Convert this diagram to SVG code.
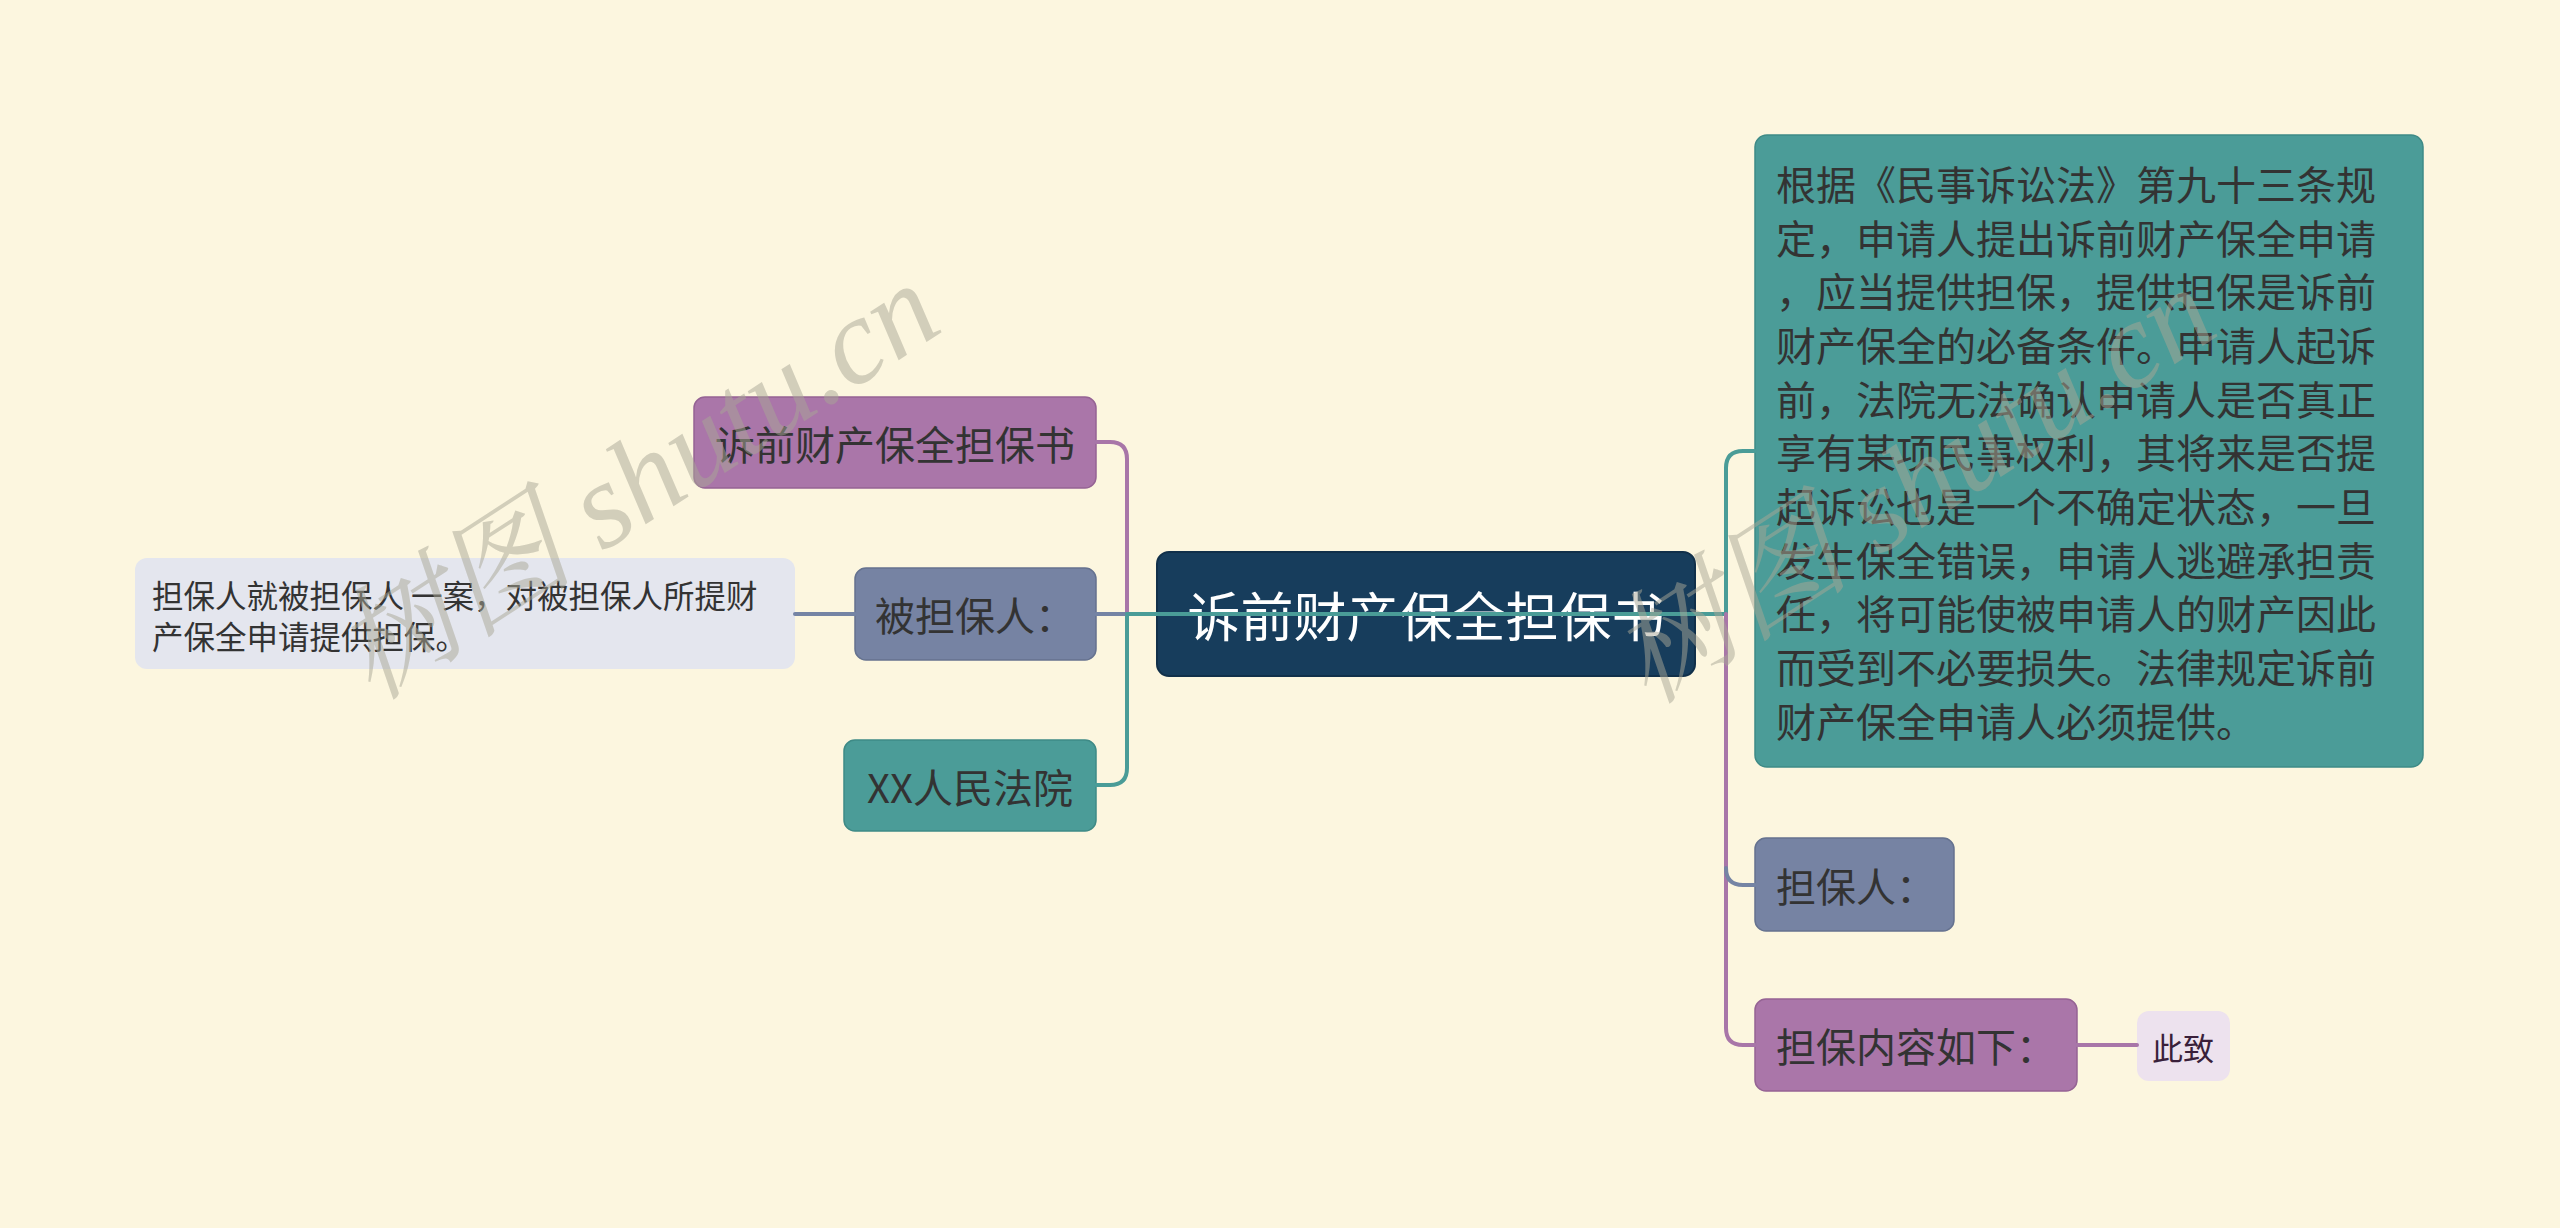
<svg xmlns="http://www.w3.org/2000/svg" width="2560" height="1228" viewBox="0 0 2560 1228">
<style>
text{font-family:"Noto Sans CJK SC","Noto Sans",sans-serif;fill:#333333;dominant-baseline:central}
.c{fill:none;stroke-width:4;stroke-linecap:round}
.p{stroke:#a876a8}.t{stroke:#4a9c97}.s{stroke:#7584a4}
.wm{font-family:"Liberation Serif","Noto Serif CJK SC","Noto Sans CJK SC",serif;font-style:italic;fill:#a9a796;opacity:0.5;font-size:122px;dominant-baseline:alphabetic}
</style>
<rect x="0" y="0" width="2560" height="1228" fill="#fcf6df"/>
<g id="root">
<rect x="1157" y="552" width="538" height="124" rx="12" fill="#173d5c" stroke="#11304a" stroke-width="2"/>
<text x="1426" y="614" font-size="53" text-anchor="middle" style="fill:#ffffff">诉前财产保全担保书</text>
</g>
<g id="n-left-title">
<rect x="694" y="397" width="402" height="91" rx="11" fill="#aa76a9" stroke="#956394" stroke-width="1.5"/>
<text x="895" y="443" font-size="40" text-anchor="middle">诉前财产保全担保书</text>
</g>
<g id="n-beidanbao">
<rect x="855" y="568" width="241" height="92" rx="11" fill="#7683a3" stroke="#65728f" stroke-width="1.5"/>
<text x="875" y="614" font-size="40">被担保人：</text>
</g>
<g id="n-court">
<rect x="844" y="740" width="252" height="91" rx="11" fill="#4b9c98" stroke="#3e8a86" stroke-width="1.5"/>
<text x="970" y="786" font-size="40" text-anchor="middle">XX人民法院</text>
</g>
<g id="n-leaf">
<rect x="135" y="558" width="660" height="111" rx="12" fill="#e4e6ee"/>
<text x="152" y="594" font-size="31.5">担保人就被担保人 一案，对被担保人所提财</text>
<text x="152" y="635" font-size="31.5">产保全申请提供担保。</text>
</g>
<g id="n-law">
<rect x="1755" y="135" width="668" height="632" rx="12" fill="#4b9c98" stroke="#3e8a86" stroke-width="1.5"/>
<text font-size="40">
<tspan x="1776" y="183">根据《民事诉讼法》第九十三条规</tspan>
<tspan x="1776" y="237">定，申请人提出诉前财产保全申请</tspan>
<tspan x="1776" y="290">，应当提供担保，提供担保是诉前</tspan>
<tspan x="1776" y="344">财产保全的必备条件。申请人起诉</tspan>
<tspan x="1776" y="398">前，法院无法确认申请人是否真正</tspan>
<tspan x="1776" y="451">享有某项民事权利，其将来是否提</tspan>
<tspan x="1776" y="505">起诉讼也是一个不确定状态，一旦</tspan>
<tspan x="1776" y="559">发生保全错误，申请人逃避承担责</tspan>
<tspan x="1776" y="612">任，将可能使被申请人的财产因此</tspan>
<tspan x="1776" y="666">而受到不必要损失。法律规定诉前</tspan>
<tspan x="1776" y="720">财产保全申请人必须提供。</tspan>
</text>
</g>
<g id="n-danbaoren">
<rect x="1755" y="838" width="199" height="93" rx="11" fill="#7683a3" stroke="#65728f" stroke-width="1.5"/>
<text x="1776" y="885" font-size="40">担保人：</text>
</g>
<g id="n-content">
<rect x="1755" y="999" width="322" height="92" rx="11" fill="#aa76a9" stroke="#956394" stroke-width="1.5"/>
<text x="1776" y="1045" font-size="40">担保内容如下：</text>
</g>
<g id="n-cizhi">
<rect x="2137" y="1011" width="93" height="70" rx="12" fill="#ede2ee"/>
<text x="2183" y="1046" font-size="31" text-anchor="middle" style="fill:#3a1f3a">此致</text>
</g>
<g id="connectors">
<path class="c p" d="M1096,442 H1110 Q1127,442 1127,459 V614"/>
<path class="c t" d="M1127,614 V768 Q1127,785 1110,785 H1096"/>
<path class="c s" d="M795,614 H855"/>
<path class="c s" d="M1096,614 H1127"/>
<path class="c p" d="M1695,614 H1726"/>
<path class="c t" d="M1127,614 H1726"/>
<path class="c t" d="M1726,614 V468 Q1726,451 1743,451 H1755"/>
<path class="c p" d="M1726,614 V1028 Q1726,1045 1743,1045 H1755"/>
<path class="c s" d="M1726,868 Q1726,885 1743,885 H1755"/>
<path class="c p" d="M2077,1045 H2137"/>
</g>
<g id="watermark">
<text class="wm" transform="translate(372,702) rotate(-33)">树图 shutu.cn</text>
<text class="wm" transform="translate(1648,706) rotate(-33)">树图 shutu.cn</text>
</g>
</svg>
